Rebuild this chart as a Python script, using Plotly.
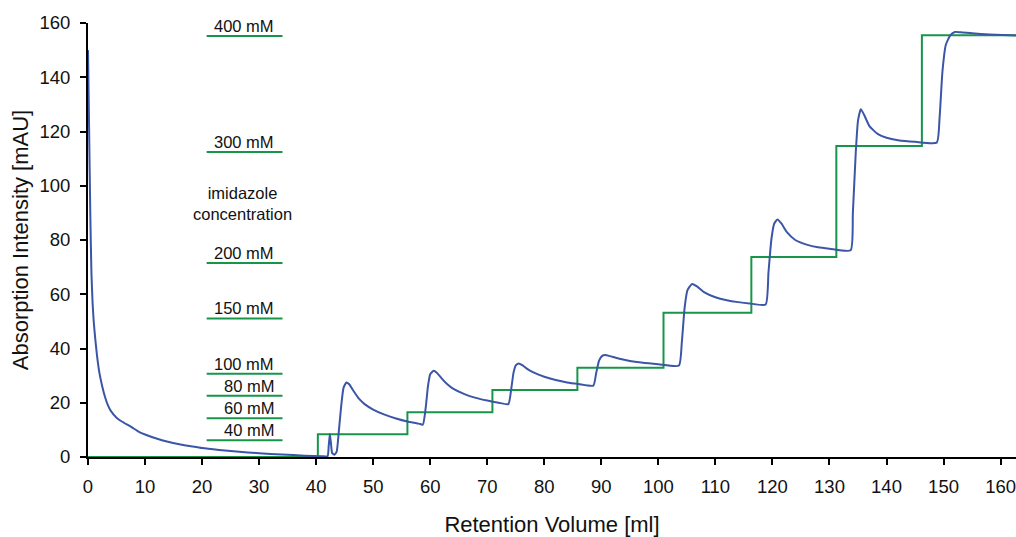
import plotly.graph_objects as go

# Absorption (blue) trace
abs_x = [0, 0.2, 0.4, 0.6, 0.8, 1.0, 1.3, 1.6, 2.0, 2.5, 3, 3.5, 4, 5, 6, 7, 7.5, 8, 9, 10,
         12, 14, 16, 18, 20, 23, 26, 30, 34, 38, 41, 42.0,
         42.2, 42.4, 42.6, 42.8, 43.2, 43.6, 44.0, 44.4, 44.8, 45.3, 45.8, 46.5, 47.5, 48.5,
         50, 52, 54, 56, 58, 58.7,
         59.2, 59.6, 60.0, 60.6, 61.2, 62, 63, 64, 66, 68, 70, 72, 73.7,
         74.2, 74.6, 75.0, 75.5, 76.2, 77, 78, 80, 82, 84, 86, 88.6,
         89.1, 89.6, 90.1, 90.7, 91.5, 93, 95, 97, 100, 103.6,
         104.1, 104.6, 105.1, 105.9, 106.7, 108, 110, 112, 114, 116, 118.8,
         119.3, 119.8, 120.3, 120.9, 121.6, 122.5, 124, 126, 128, 130, 133.7,
         134.1, 134.6, 135.0, 135.5, 136.1, 137, 138.5, 140, 142, 145, 148.8,
         149.3, 149.8, 150.4, 151.2, 152, 153, 155, 158, 162.7]
abs_y = [150, 120, 90, 68, 57, 50, 43, 37, 31, 26, 22, 19, 17, 14.5, 13, 11.8, 11.2, 10.5, 9.2, 8.3,
         6.8, 5.6, 4.7, 4.0, 3.3, 2.6, 2.0, 1.4, 0.9, 0.5, 0.3, 0.3,
         4, 8.5, 5, 1.5, 0.8, 2, 10, 19, 25.5, 27.5, 26.8, 24.5, 21.5, 19.5,
         17.5, 15.6, 14.2, 13.1, 12.3, 11.9,
         18, 26, 30.5, 31.8, 31, 29, 26.8, 25.2, 23.2, 21.8, 20.8, 20.0, 19.5,
         25, 31, 33.8, 34.5, 33.8, 32.5, 31.3, 29.6, 28.4, 27.5, 26.9, 26.3,
         31, 35.5, 37.2, 37.6, 37.2, 36.3, 35.4, 34.8, 34.2, 33.7,
         42, 55, 61.5, 63.8, 63, 60.8, 58.9, 57.8, 57.1, 56.6, 56.2,
         68, 80, 86, 87.6, 86, 83, 80, 78.3, 77.3, 76.8, 76.2,
         90, 112, 124, 128.2, 126, 122, 119, 117.7, 116.8, 116.2, 115.9,
         125, 142, 152, 155.5, 156.7, 156.6, 156.2, 155.8, 155.4]

# Imidazole step gradient (green)
grad_x = [0, 40.3, 56.0, 70.9, 85.8, 100.9, 116.3, 131.2, 146.2, 162.7]
grad_y = [0, 8.4, 16.5, 24.7, 32.9, 53.2, 73.7, 114.7, 155.5, 155.5]

# Concentration key
conc_labels = ["40 mM", "60 mM", "80 mM", "100 mM", "150 mM", "200 mM", "300 mM", "400 mM"]
conc_levels = [6.2, 14.3, 22.6, 30.7, 51.1, 71.5, 112.4, 155.2]
key_x = [20.8, 34.1]

BLUE = "#3b56a6"
GREEN = "#17964a"
FONT = "Liberation Sans, Arial, sans-serif"

fig = go.Figure()
for lvl in conc_levels:
    fig.add_trace(go.Scatter(x=key_x, y=[lvl, lvl], mode="lines",
                             line=dict(color=GREEN, width=2), hoverinfo="skip"))
fig.add_trace(go.Scatter(x=grad_x, y=grad_y, mode="lines", line_shape="hv",
                         line=dict(color=GREEN, width=2)))
fig.add_trace(go.Scatter(x=abs_x, y=abs_y, mode="lines", line_shape="spline",
                         line=dict(color=BLUE, width=2, smoothing=0.5)))

for lab, lvl in zip(conc_labels, conc_levels):
    fig.add_annotation(x=32.9, y=lvl, text=lab, showarrow=False, xanchor="right",
                       yanchor="bottom", yshift=-1,
                       font=dict(size=16.5, color="#111", family=FONT))
fig.add_annotation(x=27.1, y=93.6, text="imidazole<br>concentration", showarrow=False,
                   xanchor="center", yanchor="middle",
                   font=dict(size=16.5, color="#111", family=FONT))

fig.update_layout(
    width=1016, height=537,
    margin=dict(l=88, r=0, t=23, b=80),
    paper_bgcolor="white", plot_bgcolor="white",
    showlegend=False,
    font=dict(family=FONT, size=18.5, color="#111"),
    xaxis=dict(range=[0, 162.7], tickvals=list(range(0, 161, 10)), showgrid=False,
               zeroline=False, showline=True, linecolor="black", linewidth=2,
               ticks="outside", ticklen=6, tickwidth=1.5, tickcolor="black",
               automargin=False, ticklabelstandoff=6, ticklabeloverflow="allow",
               title=dict(text="Retention Volume [ml]", standoff=20)),
    yaxis=dict(range=[0, 160], tickvals=list(range(0, 161, 20)), showgrid=False,
               zeroline=False, showline=True, linecolor="black", linewidth=2,
               ticks="outside", ticklen=6, tickwidth=1.5, tickcolor="black",
               automargin=False, ticklabelstandoff=6, ticklabeloverflow="allow",
               title=dict(text="Absorption Intensity [mAU]", standoff=5)),
)
fig.write_html("out.html", config={"displayModeBar": False},
               post_script="document.body.style.margin='0';document.body.style.overflow='hidden';")
